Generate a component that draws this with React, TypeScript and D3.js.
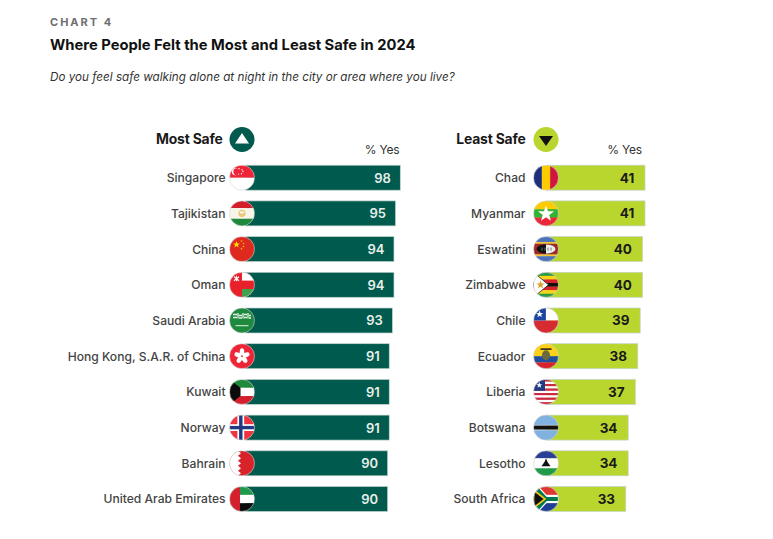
import React from 'react';
import * as d3 from 'd3';

const mostSafeNames = ['Singapore', 'Tajikistan', 'China', 'Oman', 'Saudi Arabia', 'Hong Kong, S.A.R. of China', 'Kuwait', 'Norway', 'Bahrain', 'United Arab Emirates'];
const mostSafeValues = [98, 95, 94, 94, 93, 91, 91, 91, 90, 90];
const leastSafeNames = ['Chad', 'Myanmar', 'Eswatini', 'Zimbabwe', 'Chile', 'Ecuador', 'Liberia', 'Botswana', 'Lesotho', 'South Africa'];
const leastSafeValues = [41, 41, 40, 40, 39, 38, 37, 34, 34, 33];

const GREEN = '#005a4e';
const LIME = '#b9d62f';
const FONT = 'Inter, "Noto Sans", sans-serif';
const R = 12.5;

function star(cx: number, cy: number, r: number, n = 5, inner = 0.4) {
  const pts: string[] = [];
  for (let i = 0; i < n * 2; i++) {
    const rad = i % 2 ? r * inner : r;
    const a = (i * Math.PI) / n - Math.PI / 2;
    pts.push(`${cx + rad * Math.cos(a)},${cy + rad * Math.sin(a)}`);
  }
  return pts.join(' ');
}

// horizontal stripes across the flag circle, heights are relative
function HStripes({colors, weights}: {colors: string[], weights?: number[]}) {
  const w = weights ?? colors.map(() => 1);
  const total = d3.sum(w);
  let y = -R;
  return <>
    {colors.map((c, i) => {
      const h = (w[i] / total) * 2 * R;
      const el = <rect key={i} x={-R} y={y} width={2 * R} height={h + 0.2} fill={c}/>;
      y += h;
      return el;
    })}
  </>;
}

const flags: Record<string, React.ReactNode> = {
  'Singapore': <>
    <HStripes colors={['#ee2536', '#ffffff']}/>
    <circle cx={-6.5} cy={-6} r={3.6} fill="#fff"/>
    <circle cx={-5.2} cy={-6} r={3.4} fill="#ee2536"/>
    {[[-3, -9], [0, -8], [-3.5, -3.6], [-0.5, -4], [1, -6.2]].map(([x, y], i) =>
      <circle key={i} cx={x} cy={y} r={0.7} fill="#fff"/>)}
  </>,
  'Tajikistan': <>
    <HStripes colors={['#d3202c', '#f7f4e8', '#1f8a3c']} weights={[2, 3, 2]}/>
    <circle cx={0} cy={0} r={3} fill="none" stroke="#e9c46a" strokeWidth={1.2}/>
    <rect x={-2.4} y={0.2} width={4.8} height={2} fill="#e9c46a"/>
  </>,
  'China': <>
    <rect x={-R} y={-R} width={2 * R} height={2 * R} fill="#de2a1e"/>
    <polygon points={star(-5.5, -4.5, 3.6)} fill="#ffde00"/>
    {[[-0.5, -8], [1.5, -5.5], [1.5, -2.5], [-0.5, -0.3]].map(([x, y], i) =>
      <polygon key={i} points={star(x, y, 1.2)} fill="#ffde00"/>)}
  </>,
  'Oman': <>
    <rect x={-R} y={-R} width={2 * R} height={2 * R} fill="#e8202a"/>
    <rect x={0} y={-R} width={R} height={8.3} fill="#fff"/>
    <rect x={0} y={4.2} width={R} height={8.3} fill="#3fa34d"/>
    <path d="M-8,-8 L-3,-4 M-3,-8 L-8,-4 M-5.5,-9 V-3.5" stroke="#fff" strokeWidth={1.1}/>
  </>,
  'Saudi Arabia': <>
    <rect x={-R} y={-R} width={2 * R} height={2 * R} fill="#1e8a3e"/>
    <path d="M-9,-6 H-5 M-4,-7.5 V-2 M-3,-5 H0 M1,-7.5 V-2 M2,-6 H5 M6,-7.5 V-2 M7,-5 H9 M-9,-3 H-5 M-3,-2.5 H0 M2,-3 H5 M7,-2.5 H9" stroke="#e6f2e8" strokeWidth={1.3}/>
    <path d="M-6.5,5.2 H6.5" stroke="#e6f2e8" strokeWidth={1}/>
  </>,
  'Hong Kong, S.A.R. of China': <>
    <rect x={-R} y={-R} width={2 * R} height={2 * R} fill="#ee2536"/>
    {[0, 72, 144, 216, 288].map(a =>
      <ellipse key={a} cx={0} cy={-4} rx={2.3} ry={3.9} fill="#fff" transform={`rotate(${a})`}/>)}
    <circle r={0.9} fill="#ee2536"/>
  </>,
  'Kuwait': <>
    <HStripes colors={['#1f8a3c', '#ffffff', '#d3202c']}/>
    <polygon points={`${-R},${-R} -1.5,-4.2 -1.5,4.2 ${-R},${R}`} fill="#0b0b0b"/>
  </>,
  'Norway': <>
    <rect x={-R} y={-R} width={2 * R} height={2 * R} fill="#ef3340"/>
    <rect x={-R} y={-3.4} width={2 * R} height={6.8} fill="#fff"/>
    <rect x={-4.6} y={-R} width={6.8} height={2 * R} fill="#fff"/>
    <rect x={-R} y={-1.7} width={2 * R} height={3.4} fill="#1f3a80"/>
    <rect x={-2.9} y={-R} width={3.4} height={2 * R} fill="#1f3a80"/>
  </>,
  'Bahrain': <>
    <rect x={-R} y={-R} width={2 * R} height={2 * R} fill="#d8232a"/>
    <polygon points={`${-R},${-R} -4,${-R} -1,-10 -4,-7.5 -1,-5 -4,-2.5 -1,0 -4,2.5 -1,5 -4,7.5 -1,10 -4,${R} ${-R},${R}`} fill="#fff"/>
  </>,
  'United Arab Emirates': <>
    <HStripes colors={['#1f9a4a', '#ffffff', '#0b0b0b']}/>
    <rect x={-R} y={-R} width={10.5} height={2 * R} fill="#d3202c"/>
  </>,
  'Chad': <>
    <rect x={-R} y={-R} width={8.4} height={2 * R} fill="#1d2f7a"/>
    <rect x={-4.1} y={-R} width={8.3} height={2 * R} fill="#fecb00"/>
    <rect x={4.2} y={-R} width={8.3} height={2 * R} fill="#d2153c"/>
  </>,
  'Myanmar': <>
    <HStripes colors={['#fecb00', '#34b233', '#ea2839']}/>
    <polygon points={star(0, 0.5, 8.5)} fill="#fff"/>
  </>,
  'Eswatini': <>
    <HStripes colors={['#4a73bb', '#f3c53a', '#9e2a26', '#f3c53a', '#4a73bb']} weights={[3, 1, 6, 1, 3]}/>
    <ellipse cx={0} cy={0} rx={9.5} ry={4.6} fill="#111"/>
    <path d="M0,-4.6 A9.5,4.6 0 0 1 0,4.6 Z" fill="#eee"/>
    <path d="M-4,-1.5 V1.5 M-1,-1.5 V1.5 M2,-1.5 V1.5 M5,-1.5 V1.5" stroke="#777" strokeWidth={1}/>
  </>,
  'Zimbabwe': <>
    <HStripes colors={['#2d9a47', '#f5d516', '#d8232a', '#111111', '#d8232a', '#f5d516', '#2d9a47']}/>
    <polygon points={`${-R},${-R} 2.5,0 ${-R},${R}`} fill="#fff" stroke="#111" strokeWidth={0.7}/>
    <polygon points={star(-5.5, 0, 4.4)} fill="#d8a02a"/>
  </>,
  'Chile': <>
    <HStripes colors={['#ffffff', '#d72b32']}/>
    <rect x={-R} y={-R} width={12.4} height={R} fill="#1d45a0"/>
    <polygon points={star(-6.4, -6.2, 3.8)} fill="#fff"/>
  </>,
  'Ecuador': <>
    <HStripes colors={['#fcd116', '#1f4f9e', '#d8232a']} weights={[2, 1, 1]}/>
    <ellipse cx={0} cy={-1} rx={4} ry={5} fill="#6b6a3e"/>
    <path d="M-5.5,-7 H5.5" stroke="#3c3420" strokeWidth={1.8}/>
  </>,
  'Liberia': <>
    <HStripes colors={['#c9283e', '#ffffff', '#c9283e', '#ffffff', '#c9283e', '#ffffff', '#c9283e', '#ffffff', '#c9283e', '#ffffff', '#c9283e']}/>
    <rect x={-R} y={-R} width={11.5} height={11.4} fill="#1f3a80"/>
    <polygon points={star(-6.7, -6.7, 3.2)} fill="#fff"/>
  </>,
  'Botswana': <>
    <HStripes colors={['#7fb2e0', '#ffffff', '#111111', '#ffffff', '#7fb2e0']} weights={[9.5, 0.6, 4, 0.6, 9.5]}/>
  </>,
  'Lesotho': <>
    <HStripes colors={['#2b3f97', '#ffffff', '#1e9a4a']} weights={[3, 4, 3]}/>
    <path d="M0,-5 L1.4,-1.5 L4.5,3 H-4.5 L-1.4,-1.5 Z" fill="#111"/>
  </>,
  'South Africa': <>
    <HStripes colors={['#de3831', '#ffffff', '#007a4d', '#ffffff', '#1f3f97']} weights={[7, 1.5, 4, 1.5, 7]}/>
    <polygon points={`${-R},${-R - 2} -8,${-R} 1,-2.5 ${R},-2.5 ${R},2.5 1,2.5 -8,${R} ${-R},${R + 2}`} fill="#007a4d" stroke="#fff" strokeWidth={1.2}/>
    <polygon points={`${-R},-9 -1,0 ${-R},9`} fill="#111" stroke="#f5c518" strokeWidth={1.6}/>
  </>,
};

const yRows = d3.scalePoint<number>().domain(d3.range(10)).range([177.7, 499]);

interface PanelProps {
  title: string
  titleX: number
  names: string[]
  values: number[]
  x: d3.ScaleLinear<number, number>
  circleX: number
  labelX: number
  yesX: number
  color: string
  textColor: string
  valueOffset: number
  valueSize: number
  valueWeight: number
  down?: boolean
}

const Panel: React.FC<PanelProps> = ({title, titleX, names, values, x, circleX, labelX, yesX, color, textColor, valueOffset, valueSize, valueWeight, down}) => {
  return <g fontFamily={FONT}>
    <text x={titleX} y={144} textAnchor="end" fontSize={13.9} fontWeight={700} fill="#1a1a1a" letterSpacing={-0.2}>{title}</text>
    <circle cx={circleX} cy={139.5} r={R} fill={color}/>
    <polygon
      points={down ? `${circleX - 7},${136} ${circleX + 7},${136} ${circleX},${146}` : `${circleX - 7},${143.5} ${circleX + 7},${143.5} ${circleX},${133}`}
      fill={down ? '#111' : '#fff'}/>
    <text x={yesX} y={154} textAnchor="end" fontSize={12} fill="#333" letterSpacing={-0.2}>% Yes</text>
    {names.map((name, i) => {
      const cy = yRows(i)!;
      return <g key={name}>
        <rect x={x(0)} y={cy - R} width={x(values[i]) - x(0)} height={2 * R} fill={color} stroke="#c4d4cd" strokeWidth={0.7}/>
        <text x={labelX} y={cy + 4.4} textAnchor="end" fontSize={12.1} fontWeight={500} fill="#444">{name}</text>
        <text x={x(values[i]) - valueOffset} y={cy + 4.9} textAnchor="end" fontSize={valueSize} fontWeight={valueWeight} fill={textColor}>{values[i]}</text>
        <clipPath id={`flag-${i}-${title[0]}`}><circle r={R}/></clipPath>
        <g transform={`translate(${circleX},${cy})`}>
          <g clipPath={`url(#flag-${i}-${title[0]})`}>{flags[name]}</g>
          <circle r={R} fill="none" stroke="#d4d4d4" strokeWidth={0.6}/>
        </g>
      </g>;
    })}
  </g>;
};

export default function App() {
  const xLeft = d3.scaleLinear().domain([0, 98]).range([245.5, 400.3]);
  const xRight = d3.scaleLinear().domain([0, 41]).range([546.6, 645]);

  return <svg width={773} height={539} style={{position: 'absolute', left: 0, top: 0, background: '#fff'}}>
    <g fontFamily={FONT}>
      <text x={50} y={26} fontSize={11} fontWeight={700} fill="#6e6e6e" letterSpacing={2}>CHART 4</text>
      <text x={50} y={50} fontSize={14.75} fontWeight={700} fill="#111">Where People Felt the Most and Least Safe in 2024</text>
      <text x={50} y={81} fontSize={11.7} fontStyle="italic" fill="#333">Do you feel safe walking alone at night in the city or area where you live?</text>
    </g>
    <Panel title="Most Safe" titleX={222.5} names={mostSafeNames} values={mostSafeValues} x={xLeft}
           circleX={242} labelX={225.5} yesX={399.5} color={GREEN} textColor="#e8efe9"
           valueOffset={9.5} valueSize={13} valueWeight={600}/>
    <Panel title="Least Safe" titleX={525.5} names={leastSafeNames} values={leastSafeValues} x={xRight}
           circleX={546} labelX={525.5} yesX={642} color={LIME} textColor="#1a1a1a"
           valueOffset={10.7} valueSize={13.5} valueWeight={700} down/>
  </svg>;
}
